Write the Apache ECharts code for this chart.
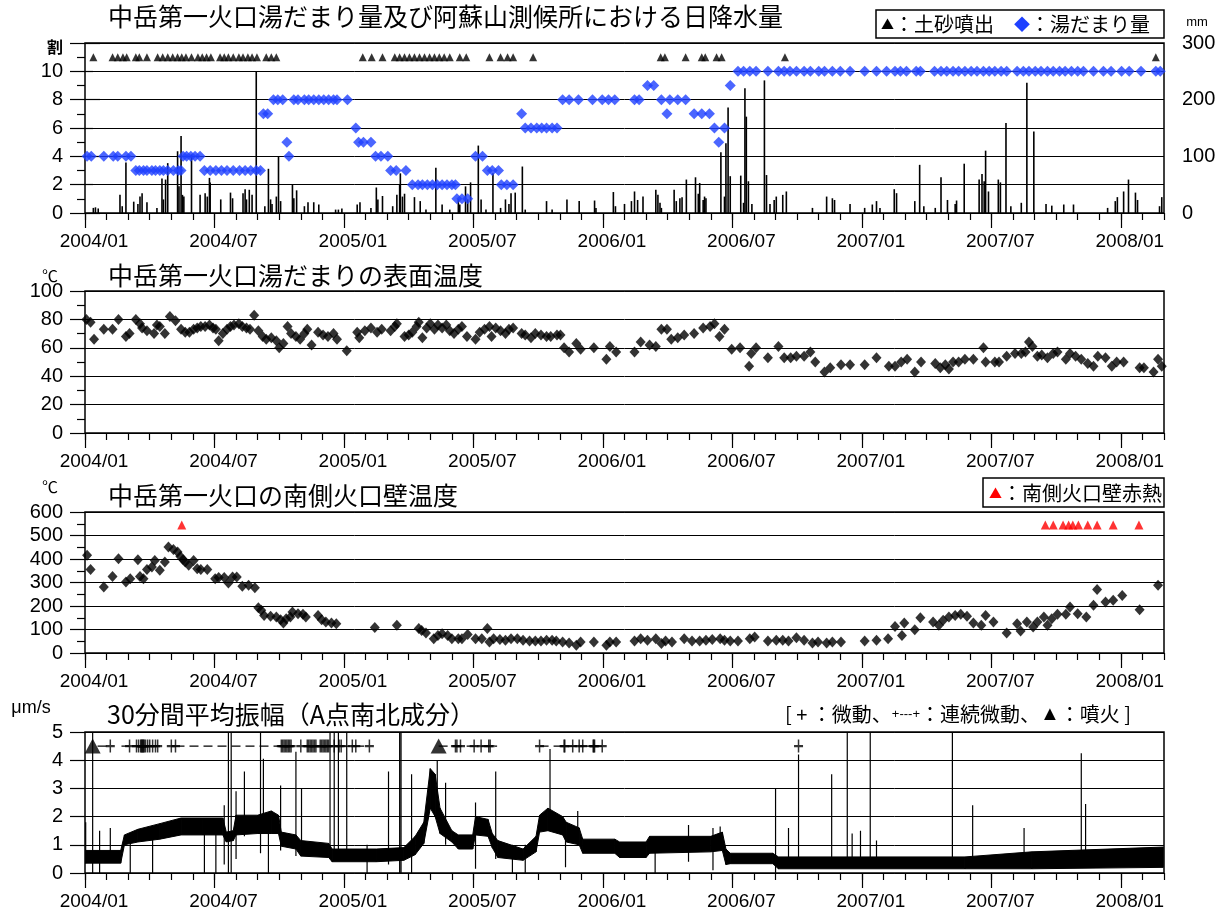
<!DOCTYPE html>
<html>
<head>
<meta charset="utf-8">
<script src="https://cdn.jsdelivr.net/npm/echarts@6/dist/echarts.min.js"></script>
<style>
  html, body { margin: 0; background: #fff; }
  #chart { width: 1229px; height: 919px; }
</style>
</head>
<body>
<div id="chart"></div>
<script>
// x is months since 2004/01 (fractional), so all four panels share one scale
function mi(s) {
  const [y, m, d] = s.split('-').map(Number)
  const dim = new Date(y, m, 0).getDate()
  return (y - 2004) * 12 + (m - 1) + (d - 1) / dim
}

const majorTicks = [0, 6, 12, 18, 24, 30, 36, 42, 48]
const tickLabels = ['2004/01', '2004/07', '2005/01', '2005/07', '2006/01', '2006/07', '2007/01', '2007/07', '2008/01']

// --- panel 1: 湯だまり量 (割) and daily rain (mm)
const poolDates = [
  '2004-01-04','2004-01-10','2004-01-28','2004-02-10','2004-02-16','2004-02-27','2004-03-05',
  '2004-03-12','2004-03-17','2004-03-23','2004-03-28','2004-04-04','2004-04-09','2004-04-15','2004-04-20','2004-04-26','2004-05-04','2004-05-11','2004-05-15',
  '2004-05-18','2004-05-23','2004-05-29','2004-06-04','2004-06-11',
  '2004-06-17','2004-06-25','2004-07-03','2004-07-11','2004-07-19','2004-07-28','2004-08-06','2004-08-14','2004-08-22','2004-08-30','2004-09-05',
  '2004-09-09','2004-09-15','2004-09-23','2004-09-29','2004-10-06','2004-10-12','2004-10-15',
  '2004-10-22','2004-10-28','2004-11-06','2004-11-12','2004-11-19','2004-11-26','2004-12-03','2004-12-10','2004-12-17','2004-12-22','2005-01-06',
  '2005-01-18','2005-01-22','2005-01-29','2005-02-08','2005-02-14','2005-02-21','2005-03-02',
  '2005-03-06','2005-03-14','2005-03-28',
  '2005-04-06','2005-04-14','2005-04-20','2005-04-27','2005-05-04','2005-05-11','2005-05-18','2005-05-25','2005-06-01','2005-06-06',
  '2005-06-08','2005-06-15','2005-06-23','2005-07-04','2005-07-14','2005-07-21','2005-07-28','2005-08-06',
  '2005-08-10','2005-08-18','2005-08-27','2005-09-08',
  '2005-09-13','2005-09-21','2005-09-29','2005-10-06','2005-10-13','2005-10-21','2005-10-28',
  '2005-11-05','2005-11-14','2005-11-27','2005-12-17','2005-12-31','2006-01-09','2006-01-18','2006-02-14','2006-02-20',
  '2006-03-03','2006-03-12','2006-03-23','2006-03-31','2006-04-04','2006-04-15','2006-04-26',
  '2006-05-08','2006-05-19','2006-05-30','2006-06-06','2006-06-12','2006-06-20','2006-06-28',
  '2006-07-09','2006-07-17','2006-07-26','2006-08-04','2006-08-21','2006-09-05','2006-09-13','2006-09-21','2006-09-30',
  '2006-10-11','2006-10-20','2006-11-01','2006-11-09','2006-11-20','2006-12-01','2006-12-15',
  '2007-01-05','2007-01-22','2007-02-05','2007-02-16','2007-02-23','2007-03-03','2007-03-17','2007-03-23',
  '2007-04-12','2007-04-21','2007-04-29','2007-05-08','2007-05-16','2007-05-25','2007-06-03','2007-06-11','2007-06-20','2007-06-28',
  '2007-07-06','2007-07-15','2007-07-23','2007-08-07','2007-08-16','2007-08-24','2007-09-02','2007-09-10','2007-09-19','2007-09-27',
  '2007-10-06','2007-10-14','2007-10-23','2007-11-01','2007-11-09','2007-11-23','2007-12-07','2007-12-18',
  '2008-01-02','2008-01-13','2008-01-30','2008-02-19','2008-02-25'
]
const poolVals = [
  4,4,4,4,4,4,4,
  3,3,3,3,3,3,3,3,3,3,3,3,
  4,4,4,4,4,
  3,3,3,3,3,3,3,3,3,3,3,
  7,7,8,8,8,5,4,
  8,8,8,8,8,8,8,8,8,8,8,
  6,5,5,5,4,4,4,
  3,3,3,
  2,2,2,2,2,2,2,2,2,2,
  1,1,1,4,4,3,3,3,
  2,2,2,7,
  6,6,6,6,6,6,6,
  8,8,8,8,8,8,8,8,8,
  9,9,8,7,8,8,8,
  7,7,7,6,5,6,9,
  10,10,10,10,10,10,10,10,10,
  10,10,10,10,10,10,10,
  10,10,10,10,10,10,10,10,
  10,10,10,10,10,10,10,10,10,10,
  10,10,10,10,10,10,10,10,10,10,
  10,10,10,10,10,10,10,10,
  10,10,10,10,10
]

// 土砂噴出 (drawn on the 11 割 row)
const sedimentDates = [
  '2004-01-13','2004-02-09','2004-02-16','2004-02-23','2004-02-28','2004-03-12','2004-03-17','2004-03-28',
  '2004-04-12','2004-04-19','2004-04-26','2004-05-03','2004-05-10','2004-05-16','2004-05-22','2004-05-30',
  '2004-06-08','2004-06-14','2004-06-20','2004-06-26','2004-07-09','2004-07-15','2004-07-21','2004-07-28',
  '2004-08-05','2004-08-11','2004-08-18','2004-08-24','2004-08-31','2004-09-13','2004-09-20','2004-09-27',
  '2005-01-28','2005-02-09','2005-02-23','2005-03-12','2005-03-19','2005-03-26','2005-04-02','2005-04-09',
  '2005-04-16','2005-04-23','2005-04-30','2005-05-07','2005-05-14','2005-05-21','2005-05-29','2005-06-12',
  '2005-06-21','2005-07-24','2005-08-09','2005-08-19','2005-08-27','2005-09-24',
  '2006-03-22','2006-03-28','2006-04-26','2006-05-19','2006-05-24','2006-06-09','2006-06-16','2006-09-14',
  '2008-02-19'
]
const sedimentLevel = 11

const rainDates = [
  '2004-01-13','2004-01-16','2004-01-20','2004-02-19','2004-02-22','2004-02-27','2004-03-09','2004-03-15','2004-03-18','2004-03-21',
  '2004-03-28','2004-04-11','2004-04-18','2004-04-20','2004-04-23','2004-04-26','2004-05-10','2004-05-12','2004-05-15','2004-05-17',
  '2004-05-19','2004-05-30','2004-06-11','2004-06-18','2004-06-21','2004-06-24','2004-06-25','2004-07-10','2004-07-24','2004-07-27',
  '2004-08-11','2004-08-14','2004-08-16','2004-08-20','2004-08-24','2004-08-30','2004-09-11','2004-09-16','2004-09-19','2004-09-21',
  '2004-09-27','2004-09-30','2004-10-03','2004-10-20','2004-10-22','2004-10-26','2004-11-06','2004-11-11','2004-11-19','2004-11-26',
  '2004-12-20','2004-12-24','2004-12-29',
  '2005-01-20','2005-01-24','2005-02-08','2005-02-15','2005-02-17','2005-02-23','2005-03-09','2005-03-15','2005-03-19','2005-03-20',
  '2005-03-23','2005-03-26','2005-04-09','2005-04-17','2005-04-25','2005-05-09','2005-05-18','2005-05-29','2005-06-10','2005-06-12',
  '2005-06-20','2005-06-23','2005-06-27','2005-07-08','2005-07-12','2005-07-19','2005-07-29','2005-08-09','2005-08-16','2005-08-21',
  '2005-08-24','2005-08-30','2005-09-09','2005-09-13','2005-10-13','2005-10-21','2005-11-11','2005-11-28','2005-12-20','2005-12-22',
  '2006-01-16','2006-01-19','2006-02-01','2006-02-10','2006-02-14','2006-02-18','2006-02-25','2006-03-15','2006-03-18','2006-03-21',
  '2006-03-23','2006-04-10','2006-04-13','2006-04-18','2006-04-21','2006-04-27','2006-05-10','2006-05-14','2006-05-16','2006-05-21',
  '2006-05-23','2006-05-25','2006-06-15','2006-06-20','2006-06-22','2006-06-25','2006-06-28','2006-07-13','2006-07-17','2006-07-19',
  '2006-07-21','2006-07-24','2006-07-29','2006-08-16','2006-08-19','2006-08-24','2006-08-30','2006-09-02','2006-09-11','2006-09-16',
  '2006-10-23','2006-11-12','2006-11-20','2006-11-23','2006-12-15',
  '2007-01-05','2007-01-16','2007-01-22','2007-01-27','2007-02-15','2007-02-18','2007-03-15','2007-03-22','2007-03-28','2007-04-13',
  '2007-04-21','2007-04-30','2007-05-11','2007-05-13','2007-05-24','2007-06-14','2007-06-18','2007-06-21','2007-06-23','2007-06-27',
  '2007-07-11','2007-07-14','2007-07-22','2007-07-29','2007-08-13','2007-08-21','2007-08-31','2007-09-17','2007-09-25','2007-10-12',
  '2007-10-26','2007-12-13','2007-12-24','2007-12-27',
  '2008-01-05','2008-01-12','2008-01-22','2008-01-25','2008-02-24','2008-02-27'
]
const rainMm = [
  9,10,8,32,12,89,20,16,29,35,
  19,9,61,24,59,88,109,47,136,32,
  29,103,32,35,29,62,54,24,36,26,
  35,42,24,41,32,250,12,78,24,16,
  29,100,21,50,26,40,12,19,19,15,
  6,6,8,
  15,19,9,45,24,30,12,32,50,70,
  29,34,28,21,6,80,15,6,24,15,
  47,24,54,119,24,6,70,9,24,16,
  35,36,82,6,21,6,24,21,22,9,
  37,12,16,21,38,23,29,41,32,18,
  9,41,21,26,28,59,63,34,53,23,
  29,26,107,29,123,186,65,66,18,220,
  170,56,16,234,67,16,23,29,32,38,
  9,29,26,23,16,
  9,15,21,9,42,35,21,85,12,9,
  63,23,16,22,87,59,69,56,110,38,
  59,54,159,12,18,230,144,16,13,15,
  15,9,21,28,
  38,59,36,23,12,28
]

// --- panel 2: 湯だまり表面温度 (℃)
const surfDates = [
  '2004-01-03','2004-01-09','2004-01-14','2004-01-28','2004-02-09','2004-02-17','2004-02-27','2004-03-03','2004-03-12','2004-03-18',
  '2004-03-21','2004-03-28','2004-04-07','2004-04-11','2004-04-15','2004-04-22','2004-04-29','2004-05-07','2004-05-15','2004-05-21',
  '2004-05-27','2004-06-02','2004-06-07','2004-06-12','2004-06-18','2004-06-24','2004-06-29','2004-07-03','2004-07-07','2004-07-13',
  '2004-07-19','2004-07-24','2004-07-29','2004-08-05','2004-08-10','2004-08-16','2004-08-21','2004-08-27','2004-09-02','2004-09-08',
  '2004-09-13','2004-09-20','2004-09-27','2004-10-01','2004-10-07','2004-10-13','2004-10-18','2004-10-25','2004-10-31','2004-11-06',
  '2004-11-10','2004-11-16','2004-11-25','2004-12-02','2004-12-09','2004-12-17','2004-12-22','2005-01-05','2005-01-20','2005-01-23',
  '2005-01-31','2005-02-08','2005-02-16','2005-02-22','2005-03-06','2005-03-12','2005-03-15','2005-03-26','2005-04-01','2005-04-06',
  '2005-04-12','2005-04-15','2005-04-20','2005-04-26','2005-05-01','2005-05-07','2005-05-12','2005-05-18','2005-05-24','2005-05-29',
  '2005-06-04','2005-06-10','2005-06-15','2005-06-22','2005-07-04','2005-07-10','2005-07-17','2005-07-24','2005-07-27','2005-08-02',
  '2005-08-09','2005-08-16','2005-08-21','2005-08-27','2005-09-08','2005-09-13','2005-09-21','2005-09-27','2005-10-05','2005-10-13',
  '2005-10-19','2005-10-28','2005-11-02','2005-11-07','2005-11-14','2005-11-24','2005-11-30','2005-12-19','2006-01-06','2006-01-11',
  '2006-01-20','2006-02-14','2006-02-22','2006-03-06','2006-03-15','2006-03-23','2006-03-31','2006-04-06','2006-04-15','2006-04-24',
  '2006-05-08','2006-05-21','2006-05-31','2006-06-06','2006-06-13','2006-06-20','2006-06-30','2006-07-12','2006-07-25','2006-07-28',
  '2006-08-04','2006-08-21','2006-09-05','2006-09-13','2006-09-22','2006-09-30','2006-10-11','2006-10-20','2006-10-27','2006-11-09',
  '2006-11-17','2006-12-02','2006-12-15','2007-01-05','2007-01-22','2007-02-08','2007-02-16','2007-02-24','2007-03-04','2007-03-15',
  '2007-03-24','2007-04-13','2007-04-20','2007-04-27','2007-05-02','2007-05-08','2007-05-16','2007-05-25','2007-06-06','2007-06-20',
  '2007-06-23','2007-07-06','2007-07-12','2007-07-23','2007-08-04','2007-08-13','2007-08-19','2007-08-24','2007-08-29','2007-09-05',
  '2007-09-11','2007-09-19','2007-09-27','2007-10-03','2007-10-15','2007-10-21','2007-10-29','2007-11-06','2007-11-15','2007-11-23',
  '2007-11-29','2007-12-10','2007-12-19','2007-12-26','2008-01-05','2008-01-28','2008-02-03','2008-02-16','2008-02-22','2008-02-27'
]
const surfTemp = [
  80,78,66,73,73,80,68,70,80,77,
  74,72,70,76,75,70,82,79,73,71,
  71,73,74,75,75,76,74,73,65,70,
  73,75,76,77,75,74,73,83,72,68,
  66,67,65,60,63,75,70,68,66,70,
  73,62,71,69,68,70,66,58,71,67,
  72,74,71,73,72,75,77,68,69,71,
  75,78,67,74,77,73,76,74,76,72,
  70,73,75,68,66,71,73,75,68,74,
  72,70,73,74,70,69,67,70,69,68,
  68,69,69,60,57,63,59,60,52,61,
  57,57,64,62,61,73,73,66,67,69,
  70,74,75,77,68,73,59,60,47,56,
  60,53,61,53,53,54,54,57,50,43,
  46,48,48,48,53,47,47,50,52,43,
  50,49,46,48,45,50,50,52,52,60,
  50,50,50,54,56,56,57,64,61,54,
  55,53,56,57,52,56,54,52,49,47,
  54,53,47,50,50,46,46,43,52,47
]

// --- panel 3: 南側火口壁温度 (℃)
const wallDates = [
  '2004-01-04','2004-01-09','2004-01-28','2004-02-09','2004-02-17','2004-02-27','2004-03-04','2004-03-15','2004-03-18','2004-03-23',
  '2004-03-28','2004-04-04','2004-04-08','2004-04-15','2004-04-22','2004-04-27','2004-05-04','2004-05-10','2004-05-14','2004-05-18',
  '2004-05-21','2004-05-26','2004-06-02','2004-06-07','2004-06-12','2004-06-21','2004-07-02','2004-07-07','2004-07-15','2004-07-21',
  '2004-07-27','2004-08-02','2004-08-10','2004-08-19','2004-08-28','2004-09-02','2004-09-06','2004-09-10','2004-09-19','2004-09-27',
  '2004-10-03','2004-10-07','2004-10-11','2004-10-17','2004-10-20','2004-10-28','2004-11-04','2004-11-08','2004-11-25','2004-11-30',
  '2004-12-06','2004-12-14','2004-12-21','2005-02-13','2005-03-15','2005-04-15','2005-04-19','2005-04-25','2005-05-06','2005-05-12',
  '2005-05-18','2005-05-26','2005-06-01','2005-06-10','2005-06-15','2005-06-23','2005-07-04','2005-07-13','2005-07-21','2005-07-24',
  '2005-07-30','2005-08-08','2005-08-16','2005-08-24','2005-09-02','2005-09-10','2005-09-19','2005-09-27','2005-10-05','2005-10-13',
  '2005-10-21','2005-10-27','2005-11-05','2005-11-14','2005-11-24','2005-11-30','2005-12-19','2006-01-06','2006-01-11','2006-01-20',
  '2006-02-14','2006-02-22','2006-03-03','2006-03-15','2006-03-23','2006-03-29','2006-04-07','2006-04-24','2006-05-05','2006-05-16',
  '2006-05-25','2006-06-03','2006-06-14','2006-06-20','2006-06-28','2006-07-09','2006-07-26','2006-08-02','2006-08-21','2006-09-02',
  '2006-09-11','2006-09-19','2006-09-30','2006-10-11','2006-10-23','2006-10-31','2006-11-12','2006-11-20','2006-12-02','2007-01-05',
  '2007-01-22','2007-02-07','2007-02-16','2007-02-25','2007-02-28','2007-03-15','2007-03-23','2007-04-10','2007-04-18','2007-04-24',
  '2007-05-02','2007-05-11','2007-05-19','2007-05-28','2007-06-06','2007-06-17','2007-06-23','2007-07-04','2007-07-23','2007-08-07',
  '2007-08-12','2007-08-21','2007-08-30','2007-09-05','2007-09-14','2007-09-19','2007-09-25','2007-10-03','2007-10-15','2007-10-21',
  '2007-11-01','2007-11-13','2007-11-23','2007-11-28','2007-12-10','2007-12-21','2008-01-03','2008-01-28','2008-02-22'
]
const wallTemp = [
  416,355,281,326,401,302,316,397,326,316,
  355,366,394,352,387,451,440,430,411,397,
  387,373,394,359,355,355,316,321,321,298,
  323,323,284,288,278,193,182,160,156,153,
  142,128,146,153,174,167,165,153,160,142,
  132,128,125,108,118,104,96,85,61,75,
  82,75,61,61,61,79,61,61,104,47,
  61,57,54,61,61,54,51,51,51,54,
  54,51,47,43,33,47,47,33,47,47,
  51,61,54,61,40,51,47,61,51,51,
  54,57,61,54,51,51,61,68,51,54,
  54,51,65,54,43,47,43,47,47,51,
  54,61,113,75,128,99,150,132,118,139,
  153,160,165,156,128,118,160,132,85,125,
  94,132,111,132,153,118,146,165,165,196,
  167,153,203,270,217,224,245,184,288
]
// 南側火口壁赤熱 (drawn on the 545 ℃ row)
const glowDates = [
  '2004-05-16','2007-09-16','2007-09-27','2007-10-11','2007-10-19','2007-10-25','2007-11-02','2007-11-15','2007-11-28','2007-12-21','2008-01-27'
]
const glowLevel = 545

// --- panel 4: 30分間平均振幅 (μm/s), band read as low/high envelope
const bandDates = [
  '2004-01-01','2004-02-20','2004-02-25','2004-03-15','2004-04-15','2004-05-15','2004-06-15','2004-07-13','2004-07-18','2004-07-28',
  '2004-08-01','2004-09-01','2004-09-20','2004-09-30','2004-10-04','2004-10-25','2004-11-01','2004-12-10','2004-12-15','2005-02-15',
  '2005-03-25','2005-04-10','2005-04-22','2005-05-01','2005-05-08','2005-05-15','2005-06-01','2005-06-10','2005-06-30','2005-07-04',
  '2005-07-22','2005-07-28','2005-08-05','2005-09-10','2005-09-28','2005-10-03','2005-10-15','2005-11-05','2005-11-10','2005-11-28',
  '2005-12-03','2006-01-18','2006-01-25','2006-03-01','2006-03-06','2006-06-01','2006-06-17','2006-06-22','2006-06-28','2006-08-28',
  '2006-09-05','2007-05-25','2007-08-28','2008-02-29'
]
const bandLo = [
  0.35,0.35,1.0,1.1,1.2,1.35,1.35,1.35,1.1,1.15,
  1.35,1.4,1.4,1.4,0.95,0.85,0.6,0.55,0.4,0.4,
  0.45,0.65,1.05,2.3,2.0,1.4,1.1,0.85,0.85,1.35,
  1.3,0.9,0.55,0.45,0.75,1.45,1.5,1.35,1.1,1.0,
  0.7,0.7,0.55,0.55,0.7,0.75,0.8,0.3,0.33,0.33,
  0.15,0.15,0.15,0.2
]
const bandHi = [
  0.8,0.8,1.35,1.55,1.75,1.95,1.95,1.95,1.45,1.5,
  2.05,2.05,2.2,2.05,1.45,1.35,1.15,1.05,0.85,0.85,
  0.9,1.3,1.8,3.7,3.5,2.3,1.5,1.35,1.35,2.0,
  1.9,1.4,1.15,0.85,1.3,2.05,2.3,2.0,1.8,1.6,
  1.2,1.2,1.1,1.1,1.3,1.3,1.45,0.85,0.7,0.7,
  0.57,0.57,0.75,0.92
]
const spikeDates = [
  '2004-01-02','2004-01-12','2004-01-22','2004-02-06','2004-03-04','2004-04-05','2004-06-17','2004-07-03','2004-07-15','2004-07-21',
  '2004-07-25','2004-08-01','2004-08-13','2004-09-05','2004-09-09','2004-09-16','2004-10-03','2004-10-25','2004-11-02','2004-12-12',
  '2004-12-18','2004-12-24','2005-01-05','2005-02-03','2005-03-03','2005-03-19','2005-03-21','2005-04-05','2005-05-11','2005-05-23',
  '2005-07-04','2005-08-02','2005-08-26','2005-09-13','2005-10-18','2005-11-09','2005-11-26','2006-03-14','2006-04-30','2006-06-04',
  '2006-06-14','2006-09-01','2006-09-19','2006-10-03','2006-11-19','2006-12-11','2006-12-18','2006-12-30','2007-01-13','2007-01-22',
  '2007-05-07','2007-06-05','2007-08-17','2007-11-06','2007-11-12'
]
const spikeLo = [
  0.35,0,0,0.5,0,0,0,0,0.3,0,
  0,0.5,1.3,0.7,1.5,0,0.8,0.6,0.6,0.5,
  0.5,0.5,0.5,0,0.3,0,0,0,2.0,1.0,
  0.15,0.5,0,0,1.5,0.2,1.0,0,0.4,0.1,
  1.0,0,0.2,0.3,0.2,0.2,0.2,0.2,0.2,0.2,
  0.2,0.2,0.3,0.2,0.2
]
const spikeHi = [
  1.8,5,1.5,1.6,1.3,1.3,1.6,1.5,2.4,5,
  5,2.9,3.6,5,4.05,1.7,3.1,4.3,3.0,5,
  5,5,5,1.0,3.6,5,5,3.5,4.0,3.2,
  2.5,3.6,1.0,1.0,4.4,1.5,2.2,1.0,1.7,1.6,
  1.65,3.0,1.6,4.2,3.5,5,1.4,1.5,5,1.15,
  5,2.4,1.6,4.25,2.45
]
// 微動 (+), 連続微動 (+---+), 噴火 (▲) on the 4.5 row
const markLevel = 4.5
const tremorDates = [
  '2004-02-06','2004-03-03','2004-03-13','2004-03-16','2004-03-19','2004-03-20','2004-03-21','2004-03-22','2004-03-23','2004-03-24',
  '2004-03-26','2004-03-29','2004-04-01','2004-04-05','2004-04-09','2004-04-12','2004-05-01','2004-05-07',
  '2004-10-04','2004-10-06','2004-10-08','2004-10-10','2004-10-12','2004-10-14','2004-10-16','2004-10-18','2004-11-01',
  '2004-11-10','2004-11-12','2004-11-14','2004-11-16','2004-11-18','2004-11-20','2004-11-22',
  '2004-11-28','2004-11-30','2004-12-02','2004-12-04','2004-12-06','2004-12-08','2004-12-10',
  '2004-12-18','2004-12-25','2004-12-28','2005-01-13','2005-01-18','2005-02-06',
  '2005-06-06','2005-06-08','2005-06-13','2005-07-02','2005-07-12','2005-07-23','2005-07-25',
  '2005-10-03','2005-11-07','2005-11-08','2005-11-19','2005-11-28','2005-12-03','2005-12-18','2005-12-19','2005-12-20','2005-12-31',
  '2006-10-03'
]
const tremorRunStart = ['2004-01-19','2004-02-21','2004-05-07','2004-12-28','2005-05-13','2005-10-03']
const tremorRunEnd   = ['2004-02-06','2004-03-03','2004-10-04','2005-02-06','2005-08-04','2005-12-31']
const eruptionDates = ['2004-01-12','2005-05-13']

// ---------------------------------------------------------------
const NUM = "'Liberation Sans', Arial, sans-serif"
const JP = "'Noto Sans CJK JP', sans-serif"
const BLUE = '#1e40ff'

const pts = (dates, vals) => dates.map((d, i) => [mi(d), vals[i]])
const row = (dates, level) => dates.map(d => [mi(d), level])

// band pieces: [x0, lo0, hi0, x1, lo1, hi1]
function bandPieces() {
  const out = []
  for (let i = 0; i < bandDates.length - 1; i++) {
    out.push([mi(bandDates[i]), bandLo[i], bandHi[i], mi(bandDates[i + 1]), bandLo[i + 1], bandHi[i + 1]])
  }
  return out
}
function spikeSegments() {
  const out = []
  spikeDates.forEach((d, i) => {
    const x = mi(d)
    out.push([x, spikeLo[i]], [x, spikeHi[i]], [x, '-'])
  })
  return out
}
function runSegments() {
  const out = []
  tremorRunStart.forEach((d, i) => {
    out.push([mi(d), markLevel], [mi(tremorRunEnd[i]), markLevel], [mi(tremorRunEnd[i]), '-'])
  })
  return out
}

const tickStyle = { color: '#000', width: 1.2 }

function xAxes(g) {
  return [
    {
      gridIndex: g, type: 'value', position: 'bottom', min: 0, max: 50, interval: 1,
      axisLine: { show: false }, splitLine: { show: false },
      axisTick: { length: 7, lineStyle: tickStyle },
      axisLabel: { show: false }
    },
    {
      gridIndex: g, type: 'value', position: 'bottom', min: 0, max: 50,
      axisLine: { show: false }, splitLine: { show: false },
      axisTick: { length: 15, customValues: majorTicks, lineStyle: tickStyle },
      axisLabel: {
        customValues: majorTicks,
        formatter: v => tickLabels[majorTicks.indexOf(v)] || '',
        fontSize: 19, fontFamily: NUM, color: '#000', margin: 19, padding: [0, 0, 0, 18]
      }
    }
  ]
}

function yAxis(g, max, step, opt = {}) {
  return Object.assign({
    gridIndex: g, type: 'value', min: 0, max: max, interval: step,
    axisLine: { show: false },
    axisTick: { show: true, length: 15, lineStyle: tickStyle },
    minorTick: { show: true, splitNumber: 2, length: 8, lineStyle: tickStyle },
    splitLine: { show: true, lineStyle: { color: '#000', width: 1 } },
    axisLabel: { fontSize: 20, fontFamily: NUM, color: '#000', margin: 22 }
  }, opt)
}

const grids = [
  { left: 85, right: 65, top: 43, height: 170 },
  { left: 85, right: 65, top: 291, height: 142 },
  { left: 85, right: 65, top: 512, height: 141 },
  { left: 85, right: 65, top: 732, height: 141 }
].map(g => Object.assign(g, { show: true, borderColor: '#000', borderWidth: 1.5, backgroundColor: 'transparent' }))

const yAxes = [
  yAxis(0, 12, 2, { axisLabel: { fontSize: 20, fontFamily: NUM, color: '#000', margin: 22, formatter: v => (v === 12 ? '' : v) } }),
  yAxis(0, 300, 100, { position: 'right', splitLine: { show: false }, axisLabel: { fontSize: 20, fontFamily: NUM, color: '#000', margin: 18 } }),
  yAxis(1, 100, 20),
  yAxis(2, 600, 100),
  yAxis(3, 5, 1, { minorTick: { show: false } })
]

const plusPath = 'path://M5,0L5,12M0,6L10,6'

const series = [
  // panel 1
  { type: 'bar', xAxisIndex: 0, yAxisIndex: 1, barWidth: 1.6, itemStyle: { color: '#000' },
    data: pts(rainDates, rainMm), z: 2 },
  { type: 'scatter', xAxisIndex: 0, yAxisIndex: 0, symbol: 'diamond', symbolSize: [11, 11],
    itemStyle: { color: BLUE }, data: pts(poolDates, poolVals), z: 3 },
  { type: 'scatter', xAxisIndex: 0, yAxisIndex: 0, symbol: 'triangle', symbolSize: [8, 8],
    itemStyle: { color: '#000' }, data: row(sedimentDates, sedimentLevel), z: 3 },
  // panel 2
  { type: 'scatter', xAxisIndex: 2, yAxisIndex: 2, symbol: 'diamond', symbolSize: [10, 11],
    itemStyle: { color: '#000' }, data: pts(surfDates, surfTemp) },
  // panel 3
  { type: 'scatter', xAxisIndex: 4, yAxisIndex: 3, symbol: 'diamond', symbolSize: [10, 11],
    itemStyle: { color: '#000' }, data: pts(wallDates, wallTemp) },
  { type: 'scatter', xAxisIndex: 4, yAxisIndex: 3, symbol: 'triangle', symbolSize: [9, 9],
    itemStyle: { color: '#ff0000' }, data: row(glowDates, glowLevel) },
  // panel 4
  { type: 'custom', xAxisIndex: 6, yAxisIndex: 4, clip: true,
    encode: { x: [0, 3], y: [1, 2, 4, 5] },
    renderItem: (params, api) => {
      const p = [
        api.coord([api.value(0), api.value(1)]),
        api.coord([api.value(3), api.value(4)]),
        api.coord([api.value(3), api.value(5)]),
        api.coord([api.value(0), api.value(2)])
      ]
      return { type: 'polygon', shape: { points: p }, style: { fill: '#000', stroke: '#000', lineWidth: 1 } }
    },
    data: bandPieces() },
  { type: 'line', xAxisIndex: 6, yAxisIndex: 4, symbol: 'none', connectNulls: false,
    lineStyle: { width: 1.2, color: '#000' }, data: spikeSegments() },
  { type: 'line', xAxisIndex: 6, yAxisIndex: 4, symbol: 'none', connectNulls: false,
    lineStyle: { width: 1.4, color: '#000', type: [9, 5] }, data: runSegments() },
  { type: 'scatter', xAxisIndex: 6, yAxisIndex: 4, symbol: plusPath, symbolSize: [9, 13],
    itemStyle: { color: 'none', borderColor: '#000', borderWidth: 1.8 }, data: row(tremorDates, markLevel) },
  { type: 'scatter', xAxisIndex: 6, yAxisIndex: 4, symbol: 'triangle', symbolSize: [16, 15],
    itemStyle: { color: '#000' }, data: row(eruptionDates, markLevel) }
]

function label(x, y, text, font, extra = {}) {
  return { type: 'text', x, y, silent: true,
    style: Object.assign({ text, font, fill: '#000', align: 'left', verticalAlign: 'middle' }, extra) }
}

const graphic = [
  label(108, 16, '中岳第一火口湯だまり量及び阿蘇山測候所における日降水量', `25px ${JP}`),
  label(108, 275, '中岳第一火口湯だまりの表面温度', `25px ${JP}`),
  label(108, 495, '中岳第一火口の南側火口壁温度', `25px ${JP}`),
  label(107, 714, '30分間平均振幅（A点南北成分）', `25px ${JP}`),
  label(55, 47, '割', `bold 16px ${JP}`, { align: 'center' }),
  label(1197, 22, 'mm', `13px ${NUM}`, { align: 'center' }),
  label(50, 276, '℃', `16px ${JP}`, { align: 'center' }),
  label(50, 487, '℃', `16px ${JP}`, { align: 'center' }),
  label(31, 708, 'μm/s', `18px ${NUM}`, { align: 'center' }),
  { type: 'rect', shape: { x: 876, y: 10, width: 288, height: 28 }, silent: true,
    style: { fill: '#fff', stroke: '#000', lineWidth: 1.5 } },
  { type: 'text', x: 881, y: 24, silent: true, style: {
    text: '{t|▲}{s|：土砂噴出　}{d|◆}{s|：湯だまり量}', verticalAlign: 'middle',
    rich: { t: { fontSize: 13, fontFamily: JP, fill: '#000' }, d: { fontSize: 16, fontFamily: JP, fill: BLUE },
            s: { fontSize: 20, fontFamily: JP, fill: '#000' } } } },
  { type: 'rect', shape: { x: 983, y: 478, width: 181, height: 29 }, silent: true,
    style: { fill: '#fff', stroke: '#000', lineWidth: 1.5 } },
  { type: 'text', x: 989, y: 493, silent: true, style: {
    text: '{t|▲}{s|：南側火口壁赤熱}', verticalAlign: 'middle',
    rich: { t: { fontSize: 13, fontFamily: JP, fill: '#ff0000' }, s: { fontSize: 20, fontFamily: JP, fill: '#000' } } } },
  { type: 'text', x: 785, y: 714, silent: true, style: {
    text: '{s|[ + ：微動、}{m|+---+}{s|：連続微動、}{b|▲}{s|：噴火 ]}', verticalAlign: 'middle',
    rich: { s: { fontSize: 20, fontFamily: JP, fill: '#000' }, m: { fontSize: 13, fontFamily: NUM, fill: '#000' },
            b: { fontSize: 20, fontFamily: NUM, fill: '#000' } } } }
]

const chart = echarts.init(document.getElementById('chart'), null, { renderer: 'canvas' })
chart.setOption({
  animation: false,
  backgroundColor: '#fff',
  grid: grids,
  xAxis: [0, 1, 2, 3].flatMap(xAxes),
  yAxis: yAxes,
  series: series,
  graphic: graphic
})
</script>
</body>
</html>
